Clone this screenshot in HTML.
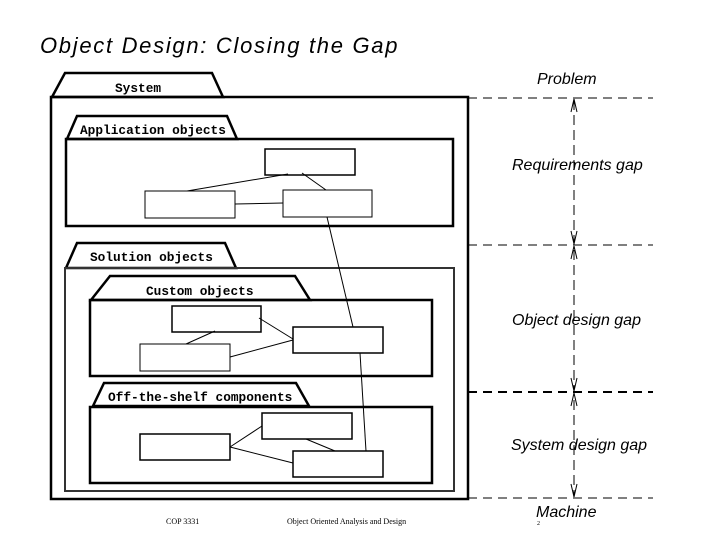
<!DOCTYPE html>
<html><head><style>
body{margin:0;background:#fff;width:720px;height:540px;overflow:hidden}
svg{display:block}
.m{font-family:"Liberation Mono",monospace;font-size:12.8px;font-weight:bold}
.i{font-family:"Liberation Sans",sans-serif;font-style:italic;font-size:16px}
</style></head><body>
<svg width="720" height="540" viewBox="0 0 720 540" xmlns="http://www.w3.org/2000/svg">
<text x="40" y="53" font-family="Liberation Sans,sans-serif" font-style="italic" font-size="22" letter-spacing="1.7">Object Design: Closing the Gap</text>
<g fill="none" stroke="#000">
<polygon points="52,97 65,73 212,73 223,97" stroke-width="2.5"/>
<rect x="51" y="97" width="417" height="402" stroke-width="2.5"/>
<polygon points="67,139 77,116 227,116 237,139" stroke-width="2.5"/>
<rect x="66" y="139" width="387" height="87" stroke-width="2.5"/>
<rect x="265" y="149" width="90" height="26" stroke-width="1.5"/>
<rect x="145" y="191" width="90" height="27" stroke-width="1"/>
<rect x="283" y="190" width="89" height="27" stroke-width="1"/>
<polygon points="66,268 77,243 225,243 236,268" stroke-width="2.5"/>
<rect x="65" y="268" width="389" height="223" stroke-width="2" stroke="#333"/>
<polygon points="91,300 110,276 295,276 310,300" stroke-width="2.5"/>
<rect x="90" y="300" width="342" height="76" stroke-width="2.5"/>
<rect x="172" y="306" width="89" height="26" stroke-width="1.5"/>
<rect x="140" y="344" width="90" height="27" stroke-width="1"/>
<rect x="293" y="327" width="90" height="26" stroke-width="1.5"/>
<polygon points="93,406 104,383 296,383 309,406" stroke-width="2.5"/>
<rect x="90" y="407" width="342" height="76" stroke-width="2.5"/>
<rect x="140" y="434" width="90" height="26" stroke-width="1.5"/>
<rect x="262" y="413" width="90" height="26" stroke-width="1.5"/>
<rect x="293" y="451" width="90" height="26" stroke-width="1.5"/>
<g stroke-width="1">
<line x1="187" y1="191" x2="288" y2="174"/>
<line x1="302" y1="173" x2="326" y2="190"/>
<line x1="235" y1="204" x2="283" y2="203"/>
<line x1="327" y1="217" x2="353" y2="327"/>
<line x1="259" y1="318" x2="293" y2="339"/>
<line x1="186" y1="344" x2="215" y2="331"/>
<line x1="230" y1="357" x2="293" y2="340"/>
<line x1="360" y1="353" x2="366" y2="451"/>
<line x1="230" y1="447" x2="262" y2="426"/>
<line x1="230" y1="447" x2="293" y2="463"/>
<line x1="306" y1="439" x2="335" y2="451"/>
</g>
<g stroke-width="1" stroke-dasharray="9,6">
<line x1="468" y1="98" x2="653" y2="98"/>
<line x1="468" y1="245" x2="653" y2="245"/>
<line x1="468" y1="392" x2="653" y2="392" stroke-width="2"/>
<line x1="468" y1="498" x2="653" y2="498"/>
<line x1="574" y1="100" x2="574" y2="496" stroke-dasharray="10,5"/>
</g>
<g stroke-width="1">
<polyline points="571,112 574,99 577,112"/>
<polyline points="571,231 574,244 577,231"/>
<polyline points="571,259 574,246 577,259"/>
<polyline points="571,378 574,391 577,378"/>
<polyline points="571,406 574,393 577,406"/>
<polyline points="571,484 574,497 577,484"/>
</g>
</g>
<text class="m" x="115" y="92">System</text>
<text class="m" x="80" y="134">Application objects</text>
<text class="m" x="90" y="261">Solution objects</text>
<text class="m" x="146" y="295">Custom objects</text>
<text class="m" x="108" y="401">Off-the-shelf components</text>
<g class="i" fill="#000">
<text x="537" y="84">Problem</text>
<text x="512" y="170">Requirements gap</text>
<text x="512" y="325">Object design gap</text>
<text x="511" y="450">System design gap</text>
<text x="536" y="517">Machine</text>
</g>
<g font-family="Liberation Serif,serif" font-size="8">
<text x="166" y="524">COP 3331</text>
<text x="287" y="524">Object Oriented Analysis and Design</text>
<text x="537" y="525" font-size="6">2</text>
</g>
</svg>
</body></html>
